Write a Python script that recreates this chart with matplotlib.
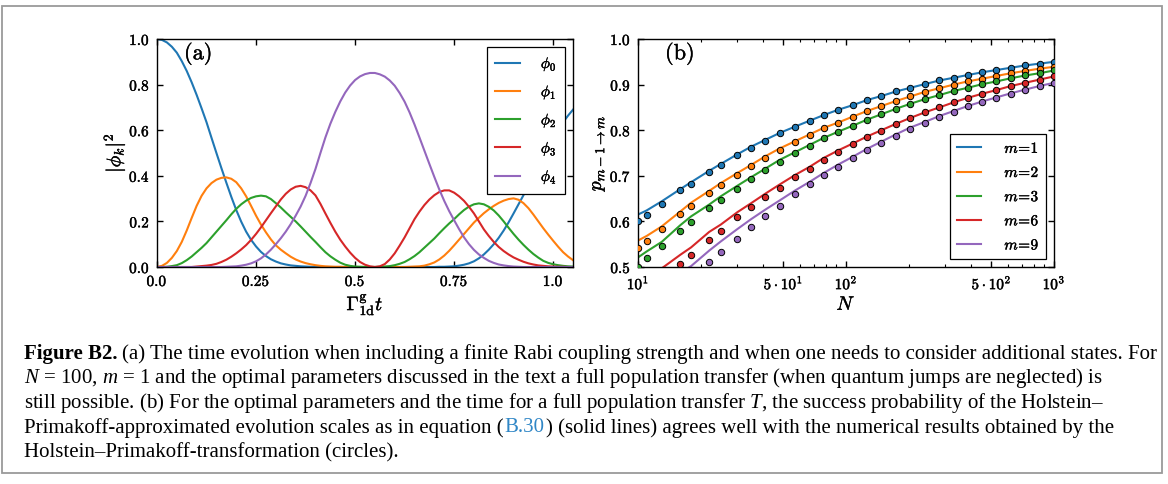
import numpy as np
import matplotlib
matplotlib.use("Agg")
import matplotlib.pyplot as plt
import matplotlib.transforms as mtransforms
import matplotlib.patheffects as pe
from matplotlib.patches import Rectangle
from matplotlib.ticker import FixedLocator, LogLocator, NullFormatter

nan = np.nan

# panel (a): populations |phi_k|^2 against Gamma t
t_vals = [0.0, 0.0125, 0.025, 0.0375, 0.05, 0.0625, 0.075, 0.0875, 0.1, 0.1125,
          0.125, 0.1375, 0.15, 0.1625, 0.175, 0.1875, 0.2, 0.2125, 0.225, 0.2375,
          0.25, 0.2625, 0.275, 0.2875, 0.3, 0.3125, 0.325, 0.3375, 0.35, 0.3625,
          0.375, 0.3875, 0.4, 0.4125, 0.425, 0.4375, 0.45, 0.4625, 0.475, 0.4875,
          0.5, 0.5125, 0.525, 0.5375, 0.55, 0.5625, 0.575, 0.5875, 0.6, 0.6125,
          0.625, 0.6375, 0.65, 0.6625, 0.675, 0.6875, 0.7, 0.7125, 0.725, 0.7375,
          0.75, 0.7625, 0.775, 0.7875, 0.8, 0.8125, 0.825, 0.8375, 0.85, 0.8625,
          0.875, 0.8875, 0.9, 0.9125, 0.925, 0.9375, 0.95, 0.9625, 0.975, 0.9875,
          1.0, 1.0125, 1.025, 1.0375, 1.05]
phi0 = [1.000, 0.996, 0.985, 0.966, 0.940, 0.903, 0.860, 0.810, 0.755, 0.696,
        0.635, 0.567, 0.500, 0.434, 0.370, 0.308, 0.250, 0.199, 0.155, 0.119,
        0.090, 0.066, 0.048, 0.034, 0.024, 0.016, 0.011, 0.007, 0.005, 0.003,
        0.002, 0.001, 0.001, 0.0, 0.0, 0.0, 0.0, 0.0, 0.0, 0.0,
        0.0, 0.0, 0.0, 0.0, 0.0, 0.0, 0.0, 0.0, 0.0, 0.0,
        0.0, 0.0, 0.0, 0.0, 0.0, 0.0, 0.0, 0.001, 0.001, 0.002,
        0.003, 0.006, 0.010, 0.016, 0.025, 0.038, 0.055, 0.076, 0.100, 0.128,
        0.160, 0.196, 0.235, 0.275, 0.315, 0.357, 0.400, 0.443, 0.485, 0.526,
        0.565, 0.601, 0.635, 0.664, 0.690]
phi1 = [0.0, 0.005, 0.018, 0.040, 0.070, 0.110, 0.160, 0.215, 0.268, 0.312,
        0.345, 0.368, 0.383, 0.391, 0.393, 0.387, 0.372, 0.345, 0.310, 0.268,
        0.225, 0.186, 0.152, 0.121, 0.095, 0.076, 0.060, 0.045, 0.033, 0.024,
        0.017, 0.012, 0.008, 0.005, 0.003, 0.002, 0.001, 0.001, 0.0, 0.0,
        0.0, 0.0, 0.0, 0.0, 0.0, 0.0, 0.0, 0.0, 0.0, 0.0,
        0.0, 0.001, 0.002, 0.003, 0.006, 0.012, 0.020, 0.033, 0.050, 0.071,
        0.095, 0.120, 0.145, 0.170, 0.195, 0.216, 0.236, 0.253, 0.268, 0.281,
        0.291, 0.298, 0.301, 0.295, 0.280, 0.258, 0.230, 0.200, 0.170, 0.142,
        0.115, 0.089, 0.065, 0.046, 0.030]
phi2 = [0.0, 0.0, 0.001, 0.004, 0.008, 0.017, 0.030, 0.046, 0.065, 0.084,
        0.105, 0.130, 0.155, 0.180, 0.205, 0.231, 0.255, 0.275, 0.291, 0.303,
        0.310, 0.313, 0.310, 0.298, 0.280, 0.261, 0.240, 0.220, 0.200, 0.178,
        0.155, 0.132, 0.110, 0.087, 0.065, 0.047, 0.032, 0.019, 0.010, 0.005,
        0.002, 0.001, 0.0, 0.0, 0.0, 0.001, 0.002, 0.004, 0.008, 0.014,
        0.022, 0.034, 0.048, 0.065, 0.085, 0.105, 0.125, 0.148, 0.170, 0.191,
        0.210, 0.231, 0.250, 0.265, 0.275, 0.279, 0.275, 0.264, 0.248, 0.226,
        0.200, 0.172, 0.145, 0.120, 0.097, 0.076, 0.057, 0.041, 0.027, 0.018,
        0.012, 0.008, 0.005, 0.003, 0.002]
phi3 = [0.0, 0.0, 0.0, 0.0, 0.0, 0.0, 0.0, 0.0, 0.002, 0.004,
        0.006, 0.009, 0.014, 0.022, 0.032, 0.045, 0.060, 0.077, 0.096, 0.119,
        0.145, 0.174, 0.205, 0.236, 0.266, 0.296, 0.321, 0.340, 0.352, 0.356,
        0.350, 0.336, 0.314, 0.277, 0.235, 0.194, 0.155, 0.120, 0.090, 0.063,
        0.040, 0.022, 0.010, 0.003, 0.000, 0.003, 0.013, 0.033, 0.060, 0.094,
        0.130, 0.170, 0.210, 0.243, 0.272, 0.296, 0.315, 0.329, 0.336, 0.336,
        0.326, 0.310, 0.290, 0.264, 0.235, 0.200, 0.165, 0.136, 0.110, 0.088,
        0.070, 0.055, 0.042, 0.032, 0.023, 0.016, 0.011, 0.007, 0.005, 0.003,
        0.002, 0.001, 0.001, 0.0, 0.0]
phi4 = [0.0, 0.0, 0.0, 0.0, 0.0, 0.0, 0.0, 0.0, 0.0, 0.0,
        0.0, 0.0, 0.0, 0.0, 0.001, 0.002, 0.003, 0.006, 0.010, 0.016,
        0.025, 0.038, 0.055, 0.076, 0.100, 0.126, 0.155, 0.188, 0.225, 0.265,
        0.312, 0.368, 0.430, 0.500, 0.568, 0.628, 0.680, 0.726, 0.765, 0.796,
        0.820, 0.836, 0.846, 0.851, 0.851, 0.845, 0.835, 0.818, 0.795, 0.763,
        0.725, 0.678, 0.625, 0.568, 0.510, 0.452, 0.395, 0.340, 0.290, 0.245,
        0.205, 0.166, 0.130, 0.100, 0.075, 0.055, 0.040, 0.027, 0.018, 0.011,
        0.007, 0.004, 0.002, 0.001, 0.0, 0.0, 0.0, 0.0, 0.0, 0.0,
        0.0, 0.0, 0.0, 0.0, 0.0]
phi_labels = [r"$\phi_0$", r"$\phi_1$", r"$\phi_2$", r"$\phi_3$", r"$\phi_4$"]

# panel (b): success probability against N
n_vals = [10, 11, 13, 16, 18, 22, 25, 30, 35, 41, 48, 57, 67, 78, 92, 108, 126,
          148, 174, 204, 239, 281, 329, 385, 452, 529, 621, 727, 853, 1000]
m_labels = [r"$m\!=\!1$", r"$m\!=\!2$", r"$m\!=\!3$", r"$m\!=\!6$", r"$m\!=\!9$"]
# numerical results (circles)
num_m1 = [0.600, 0.615, 0.639, 0.668, 0.683, 0.709, 0.723, 0.745, 0.761, 0.777,
          0.793, 0.807, 0.821, 0.833, 0.845, 0.855, 0.866, 0.875, 0.885, 0.893,
          0.901, 0.909, 0.915, 0.921, 0.927, 0.932, 0.937, 0.942, 0.946, 0.950]
num_m2 = [0.542, 0.558, 0.584, 0.617, 0.634, 0.662, 0.679, 0.702, 0.721, 0.740,
          0.757, 0.774, 0.790, 0.804, 0.816, 0.830, 0.842, 0.853, 0.864, 0.874,
          0.884, 0.892, 0.900, 0.907, 0.913, 0.919, 0.925, 0.930, 0.935, 0.939]
num_m3 = [0.501, 0.519, 0.547, 0.580, 0.599, 0.629, 0.647, 0.672, 0.692, 0.712,
          0.731, 0.750, 0.766, 0.782, 0.796, 0.810, 0.823, 0.835, 0.847, 0.858,
          0.868, 0.877, 0.886, 0.893, 0.901, 0.907, 0.914, 0.920, 0.925, 0.931]
num_m6 = [nan, nan, nan, 0.507, 0.526, 0.560, 0.580, 0.609, 0.631, 0.653,
          0.674, 0.697, 0.716, 0.734, 0.753, 0.769, 0.785, 0.799, 0.813, 0.826,
          0.839, 0.850, 0.861, 0.871, 0.880, 0.888, 0.897, 0.904, 0.911, 0.918]
num_m9 = [nan, nan, nan, nan, nan, 0.511, 0.533, 0.562, 0.588, 0.611,
          0.634, 0.660, 0.681, 0.701, 0.720, 0.739, 0.757, 0.772, 0.788, 0.803,
          0.816, 0.829, 0.840, 0.852, 0.862, 0.871, 0.880, 0.889, 0.897, 0.904]
# Holstein-Primakoff approximation (solid lines)
hp_m1 = [0.615, 0.624, 0.644, 0.671, 0.686, 0.711, 0.726, 0.747, 0.764, 0.779,
         0.794, 0.808, 0.821, 0.833, 0.845, 0.855, 0.866, 0.875, 0.885, 0.893,
         0.901, 0.909, 0.915, 0.921, 0.927, 0.932, 0.937, 0.942, 0.946, 0.950]
hp_m2 = [0.558, 0.568, 0.589, 0.622, 0.641, 0.667, 0.684, 0.706, 0.724, 0.743,
         0.760, 0.776, 0.791, 0.805, 0.817, 0.830, 0.842, 0.853, 0.864, 0.874,
         0.884, 0.892, 0.900, 0.907, 0.913, 0.919, 0.925, 0.930, 0.935, 0.939]
hp_m3 = [0.521, 0.534, 0.555, 0.592, 0.611, 0.637, 0.655, 0.678, 0.697, 0.716,
         0.735, 0.752, 0.768, 0.783, 0.797, 0.810, 0.823, 0.835, 0.847, 0.858,
         0.868, 0.877, 0.886, 0.893, 0.901, 0.907, 0.914, 0.920, 0.925, 0.931]
hp_m6 = [nan, nan, 0.497, 0.527, 0.543, 0.577, 0.593, 0.620, 0.640, 0.661,
         0.681, 0.702, 0.720, 0.739, 0.756, 0.771, 0.786, 0.800, 0.814, 0.827,
         0.839, 0.850, 0.861, 0.871, 0.880, 0.888, 0.897, 0.904, 0.911, 0.918]
hp_m9 = [nan, nan, nan, 0.488, 0.502, 0.536, 0.556, 0.583, 0.605, 0.626,
         0.646, 0.668, 0.687, 0.706, 0.725, 0.742, 0.759, 0.775, 0.791, 0.806,
         0.818, 0.831, 0.842, 0.853, 0.863, 0.872, 0.881, 0.889, 0.897, 0.904]

a_xticks = [0.0, 0.25, 0.5, 0.75, 1.0]
a_xticklabels = [r"$0.0$", r"$0.25$", r"$0.5$", r"$0.75$", r"$1.0$"]
a_yticks = [0.0, 0.2, 0.4, 0.6, 0.8, 1.0]
a_yticklabels = [r"$0.0$", r"$0.2$", r"$0.4$", r"$0.6$", r"$0.8$", r"$1.0$"]
b_xticks = [10, 50, 100, 500, 1000]
b_xticklabels = [r"$10^1$", r"$5\cdot10^1$", r"$10^2$", r"$5\cdot10^2$", r"$10^3$"]
b_yticks = [0.5, 0.6, 0.7, 0.8, 0.9, 1.0]
b_yticklabels = [r"$0.5$", r"$0.6$", r"$0.7$", r"$0.8$", r"$0.9$", r"$1.0$"]

# caption, one list of (text, style) pieces per printed line
caption = [
    [("Figure B2.", "bold"), ("(a) The time evolution when including a finite Rabi coupling strength and when one needs to consider additional states. For", "plain")],
    [(r"$N$ = 100, $m$ = 1 and the optimal parameters discussed in the text a full population transfer (when quantum jumps are neglected) is", "plain")],
    [(r"still possible. (b) For the optimal parameters and the time for a full population transfer $T$, the success probability of the Holstein–", "plain")],
    [("Primakoff-approximated evolution scales as in equation (", "plain"), ("B.30", "link"),
     (") (solid lines) agrees well with the numerical results obtained by the", "plain")],
    [("Holstein–Primakoff-transformation (circles).", "plain")],
]

colors = ["#1f77b4", "#ff7f0e", "#2ca02c", "#d62728", "#9467bd"]

plt.rcParams["mathtext.fontset"] = "cm"
plt.rcParams["mathtext.rm"] = "Liberation Serif"
plt.rcParams["mathtext.it"] = "Liberation Serif:italic"
plt.rcParams["mathtext.bf"] = "Liberation Serif:bold"

W, H = 1168, 484
fig = plt.figure(figsize=(W / 100, H / 100), dpi=100)
ax1 = fig.add_axes([157 / W, (H - 267) / H, 416 / W, 228 / H])
ax2 = fig.add_axes([638 / W, (H - 267) / H, 416 / W, 228 / H])

heavy = [pe.withStroke(linewidth=0.3, foreground="black")]


def style_axis(ax):
    for s in ax.spines.values():
        s.set_linewidth(1.0)
    ax.tick_params(which="both", direction="in", top=True, right=True,
                   labelsize=11, pad=5)
    ax.tick_params(which="major", length=4.5, width=1)
    ax.tick_params(which="minor", length=2.2, width=0.8)
    for lab in ax.get_xticklabels() + ax.get_yticklabels():
        lab.set_path_effects(heavy)
    ax.xaxis.label.set_path_effects(heavy)
    ax.yaxis.label.set_path_effects(heavy)


# panel (a)
for vals, lab, c in zip([phi0, phi1, phi2, phi3, phi4], phi_labels, colors):
    ax1.plot(t_vals, vals, color=c, lw=1.5, label=lab)
ax1.set_xlim(0, 1.05)
ax1.set_ylim(0, 1.0)
ax1.set_xticks(a_xticks)
ax1.set_xticklabels(a_xticklabels)
ax1.set_yticks(a_yticks)
ax1.set_yticklabels(a_yticklabels)
ax1.set_xlabel(r"$\Gamma^{\rm g}_{\rm 1d}t$", fontsize=14, labelpad=2)
ax1.set_ylabel(r"$|\phi_k|^2$", fontsize=14, labelpad=2)
style_axis(ax1)
ax1.text(0.065, 0.935, r"$\mathrm{(a)}$", transform=ax1.transAxes,
         fontsize=16, va="center", ha="left", path_effects=heavy)
leg1 = ax1.legend(loc="upper right", fontsize=11, fancybox=False,
                  edgecolor="black", framealpha=1, handlelength=1.65,
                  handletextpad=1.35, labelspacing=0.67, borderpad=0.5,
                  borderaxespad=0.55)
leg1.get_frame().set_linewidth(0.9)
for txt in leg1.get_texts():
    txt.set_path_effects(heavy)

# panel (b)
num_series = [num_m1, num_m2, num_m3, num_m6, num_m9]
hp_series = [hp_m1, hp_m2, hp_m3, hp_m6, hp_m9]
for num, hp, lab, c in zip(num_series, hp_series, m_labels, colors):
    ax2.plot(n_vals, hp, color=c, lw=1.5, label=lab, zorder=2)
    ax2.plot(n_vals, num, "o", color=c, markeredgecolor="black",
             markeredgewidth=0.7, markersize=4.6, zorder=3)
ax2.set_xscale("log")
ax2.set_xlim(10, 1000)
ax2.set_ylim(0.5, 1.0)
ax2.xaxis.set_major_locator(FixedLocator(b_xticks))
ax2.set_xticklabels(b_xticklabels)
ax2.xaxis.set_minor_locator(LogLocator(base=10, subs=(2, 3, 4, 6, 7, 8, 9)))
ax2.xaxis.set_minor_formatter(NullFormatter())
ax2.set_yticks(b_yticks)
ax2.set_yticklabels(b_yticklabels)
ax2.set_xlabel(r"$N$", fontsize=14, labelpad=2)
ax2.set_ylabel(r"$p_{m-1\rightarrow m}$", fontsize=14, labelpad=2)
style_axis(ax2)
ax2.text(0.065, 0.935, r"$\mathrm{(b)}$", transform=ax2.transAxes,
         fontsize=16, va="center", ha="left", path_effects=heavy)
leg2 = ax2.legend(loc="lower right", fontsize=11, fancybox=False,
                  edgecolor="black", framealpha=1, handlelength=1.6,
                  handletextpad=1.5, labelspacing=0.6, borderpad=0.45,
                  borderaxespad=0.5)
leg2.get_frame().set_linewidth(0.9)
for txt in leg2.get_texts():
    txt.set_path_effects(heavy)

# outer frame
fig.add_artist(Rectangle((1.5 / W, 11 / H), 1160 / W, 467 / H,
                         transform=fig.transFigure, fill=False,
                         edgecolor="#9a9a9a", lw=1.3))

# caption, placed in display pixels piece by piece
renderer = fig.canvas.get_renderer()
px = mtransforms.IdentityTransform()
cap_kw = dict(family="Liberation Serif", math_fontfamily="custom",
              transform=px, va="baseline", ha="left", color="black")
pb = fig.text(0, 0, caption[0][0][0], fontsize=12, fontweight="bold", **cap_kw)
pp = fig.text(0, 0, caption[0][1][0], fontsize=12, **cap_kw)
w12 = pb.get_window_extent(renderer).width + pp.get_window_extent(renderer).width
pb.remove()
pp.remove()
cap_size = 12 * (1124 - 5) / w12

x0 = 24
baselines = [359, 383.5, 408, 432.5, 457]
for pieces, yb in zip(caption, baselines):
    x = x0
    for text, kind in pieces:
        kw = dict(cap_kw)
        if kind == "bold":
            kw["fontweight"] = "bold"
        if kind == "link":
            kw["color"] = "#2f86c6"
        t = fig.text(x, H - yb, text, fontsize=cap_size, **kw)
        x = t.get_window_extent(renderer).x1 + (5 if kind == "bold" else 1)

fig.savefig("out.png", dpi=100)
